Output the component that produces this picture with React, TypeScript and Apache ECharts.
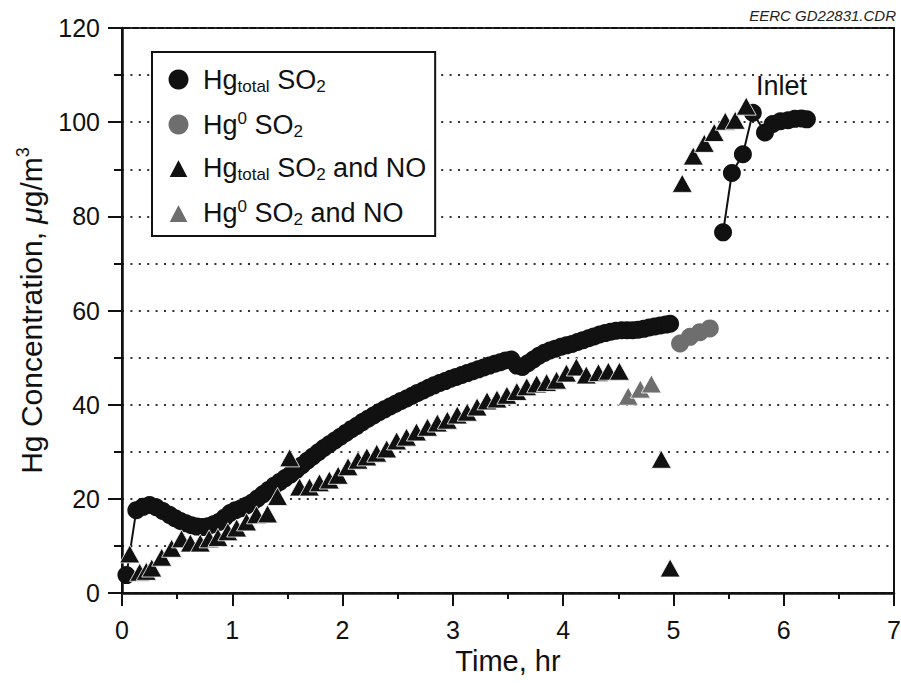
import React, { useEffect, useRef } from "react";
import * as echarts from "echarts";

// Hg_total with SO2 (black circles, connected)
const totalSO2: [number, number][] = [
  [0.04, 3.8], [0.13, 17.6], [0.19, 18.3], [0.25, 18.7], [0.31, 18.2], [0.37, 17.4],
  [0.43, 16.6], [0.48, 15.9], [0.53, 15.3], [0.58, 14.8], [0.63, 14.4], [0.68, 14.1],
  [0.73, 14.0], [0.78, 14.2], [0.83, 14.6], [0.88, 15.1], [0.93, 16.0], [0.98, 17.0],
  [1.03, 17.6], [1.08, 18.0], [1.13, 18.6], [1.18, 19.2], [1.23, 20.1], [1.28, 21.0],
  [1.33, 21.9], [1.38, 22.8], [1.43, 23.6], [1.48, 24.4], [1.53, 25.2], [1.58, 26.1],
  [1.63, 27.1], [1.68, 28.1], [1.73, 29.0], [1.78, 29.9], [1.83, 30.8], [1.88, 31.6],
  [1.93, 32.4], [1.98, 33.2], [2.03, 34.0], [2.08, 34.8], [2.13, 35.5], [2.18, 36.3],
  [2.23, 37.0], [2.28, 37.7], [2.33, 38.4], [2.38, 39.0], [2.43, 39.6], [2.48, 40.2],
  [2.53, 40.8], [2.58, 41.3], [2.63, 41.9], [2.68, 42.5], [2.73, 43.0], [2.78, 43.6],
  [2.83, 44.1], [2.88, 44.6], [2.93, 45.0], [2.98, 45.5], [3.03, 45.9], [3.08, 46.3],
  [3.13, 46.7], [3.18, 47.1], [3.23, 47.5], [3.28, 47.9], [3.33, 48.3], [3.38, 48.7],
  [3.43, 49.0], [3.48, 49.4], [3.53, 49.6], [3.58, 48.3], [3.63, 48.0], [3.68, 48.8],
  [3.73, 49.6], [3.78, 50.4], [3.83, 51.0], [3.88, 51.5], [3.93, 51.9], [3.98, 52.3],
  [4.03, 52.6], [4.08, 52.9], [4.13, 53.3], [4.18, 53.7], [4.23, 54.1], [4.28, 54.5],
  [4.33, 54.9], [4.38, 55.2], [4.43, 55.5], [4.48, 55.7], [4.53, 55.8], [4.58, 55.8],
  [4.63, 55.8], [4.68, 55.9], [4.73, 56.1], [4.78, 56.4], [4.83, 56.6], [4.88, 56.8],
  [4.93, 57.0], [4.97, 57.2],
];

// Inlet Hg_total (black circles, connected)
const totalSO2Inlet: [number, number][] = [
  [5.45, 76.6], [5.53, 89.2], [5.63, 93.2], [5.72, 102.0], [5.83, 97.8], [5.9, 99.6],
  [5.97, 100.2], [6.04, 100.4], [6.1, 100.7], [6.16, 100.8], [6.21, 100.6],
];

// Hg0 with SO2 (gray circles)
const zeroSO2: [number, number][] = [
  [5.06, 53.0], [5.15, 54.4], [5.24, 55.4], [5.33, 56.2],
];

// Hg_total with SO2 and NO (black triangles)
const totalNO: [number, number][] = [
  [0.07, 8.3], [0.16, 4.4], [0.22, 4.6], [0.27, 5.3], [0.36, 7.6], [0.45, 9.5],
  [0.54, 11.5], [0.62, 10.6], [0.71, 10.6], [0.79, 11.5], [0.87, 11.8], [0.96, 13.0],
  [1.04, 13.8], [1.13, 15.1], [1.22, 16.6], [1.32, 16.8], [1.41, 20.5], [1.52, 28.7],
  [1.61, 22.5], [1.7, 22.5], [1.79, 23.4], [1.88, 24.0], [1.96, 25.0], [2.05, 26.8],
  [2.14, 28.2], [2.22, 28.9], [2.31, 29.7], [2.4, 30.6], [2.49, 32.3], [2.58, 33.1],
  [2.67, 34.2], [2.77, 35.2], [2.86, 36.1], [2.95, 36.7], [3.04, 37.8], [3.13, 38.4],
  [3.22, 39.5], [3.31, 40.8], [3.4, 41.2], [3.49, 42.0], [3.58, 42.8], [3.67, 43.8],
  [3.76, 44.4], [3.85, 44.7], [3.94, 45.2], [4.03, 46.7], [4.12, 48.0], [4.21, 46.3],
  [4.32, 46.8], [4.41, 47.1], [4.51, 47.1], [4.89, 28.4], [4.97, 5.3],
  [5.08, 87.0], [5.18, 92.8], [5.28, 95.5], [5.37, 97.8], [5.47, 100.2], [5.56, 100.4],
  [5.66, 103.4],
];

// Hg0 with SO2 and NO (gray triangles)
const zeroNO: [number, number][] = [
  [4.59, 41.8], [4.7, 43.3], [4.8, 44.4],
];

const xTicks = [0, 1, 2, 3, 4, 5, 6, 7];
const yTicks = [0, 20, 40, 60, 80, 100, 120];

const seriesNames = [
  "Hg total SO2",
  "Hg0 SO2",
  "Hg total SO2 and NO",
  "Hg0 SO2 and NO",
];
const legendRich: Record<string, string> = {
  "Hg total SO2": "{h|Hg}{sub|total}{n| SO}{sub|2}",
  "Hg0 SO2": "{h|Hg}{sup|0}{n| SO}{sub|2}",
  "Hg total SO2 and NO": "{h|Hg}{sub|total}{n| SO}{sub|2}{n| and NO}",
  "Hg0 SO2 and NO": "{h|Hg}{sup|0}{n| SO}{sub|2}{n| and NO}",
};

const FONT = "'Liberation Sans', Arial, Helvetica, sans-serif";
const BLACK = "#111111";
const GRAY = "#6e6e6e";

export default function App() {
  const ref = useRef<HTMLDivElement>(null);
  useEffect(() => {
    if (!ref.current) return;
    const chart = echarts.init(ref.current, undefined, { renderer: "svg" });
    const dotted = { type: [2, 6.4] as number[], color: "#333", width: 2 };
    const richBase = {
      h: { fontSize: 27, fontFamily: FONT, color: BLACK, lineHeight: 30, padding: [0, 0, 0, 9] },
      n: { fontSize: 27, fontFamily: FONT, color: BLACK, lineHeight: 30 },
      sub: { fontSize: 17, fontFamily: FONT, color: BLACK, lineHeight: 16, verticalAlign: "bottom" },
      sup: { fontSize: 17, fontFamily: FONT, color: BLACK, lineHeight: 16, verticalAlign: "top" },
    };
    chart.setOption({
      animation: false,
      backgroundColor: "#ffffff",
      grid: {
        left: 122,
        right: 7,
        top: 28,
        bottom: 90,
        show: true,
        borderColor: BLACK,
        borderWidth: 2,
        outerBoundsMode: "none",
      },
      xAxis: {
        type: "value",
        min: xTicks[0],
        max: xTicks[xTicks.length - 1],
        interval: 1,
        name: "Time, hr",
        nameLocation: "middle",
        nameGap: 46,
        nameTextStyle: { fontSize: 29, fontFamily: FONT, color: BLACK },
        axisLine: { show: true, lineStyle: { color: BLACK, width: 2.5 } },
        axisTick: { show: true, length: 13, lineStyle: { color: BLACK, width: 2 } },
        minorTick: { show: true, splitNumber: 2, length: 6, lineStyle: { color: BLACK, width: 2 } },
        axisLabel: { fontSize: 25, fontFamily: FONT, color: BLACK, margin: 24 },
        splitLine: { show: false },
      },
      yAxis: {
        type: "value",
        min: yTicks[0],
        max: yTicks[yTicks.length - 1],
        interval: 20,
        name: "{n|Hg Concentration, }{mu|μ}{n|g/m}{sup|3}",
        nameLocation: "middle",
        nameGap: 74,
        nameTextStyle: {
          fontSize: 30,
          fontFamily: FONT,
          color: BLACK,
          rich: {
            n: { fontSize: 30, fontFamily: FONT, color: BLACK, lineHeight: 34 },
            mu: { fontSize: 30, fontFamily: FONT, color: BLACK, fontStyle: "italic", lineHeight: 34 },
            sup: { fontSize: 18, fontFamily: FONT, color: BLACK, lineHeight: 18, verticalAlign: "top" },
          },
        },
        axisLine: { show: true, lineStyle: { color: BLACK, width: 2.5 } },
        axisTick: { show: true, length: 14, lineStyle: { color: BLACK, width: 2 } },
        minorTick: { show: true, splitNumber: 2, length: 8, lineStyle: { color: BLACK, width: 2 } },
        axisLabel: { fontSize: 25, fontFamily: FONT, color: BLACK, margin: 22 },
        splitLine: { show: true, lineStyle: dotted },
        minorSplitLine: { show: true, lineStyle: dotted },
      },
      legend: {
        show: true,
        left: 152,
        top: 52,
        orient: "vertical",
        selectedMode: false,
        backgroundColor: "#ffffff",
        borderColor: BLACK,
        borderWidth: 2,
        borderRadius: 0,
        padding: [14, 9, 8, 15],
        itemGap: 15,
        itemWidth: 21,
        itemHeight: 20,
        symbolKeepAspect: true,
        data: [
          { name: seriesNames[0], icon: "circle" },
          { name: seriesNames[1], icon: "circle" },
          { name: seriesNames[2], icon: "triangle" },
          { name: seriesNames[3], icon: "triangle" },
        ],
        formatter: (name: string) => legendRich[name] ?? name,
        textStyle: { fontSize: 27, fontFamily: FONT, color: BLACK, rich: richBase },
      },
      graphic: [
        {
          type: "text",
          right: 5,
          top: 8,
          style: {
            text: "EERC GD22831.CDR",
            fontSize: 15,
            fontStyle: "italic",
            fontFamily: FONT,
            fill: "#222",
          },
        },
        {
          type: "text",
          left: 756,
          top: 72,
          style: { text: "Inlet", fontSize: 27, fontFamily: FONT, fill: BLACK },
        },
      ],
      series: [
        {
          name: seriesNames[0],
          type: "line",
          data: totalSO2,
          symbol: "circle",
          symbolSize: 18,
          showAllSymbol: true,
          lineStyle: { color: BLACK, width: 2 },
          itemStyle: { color: BLACK, opacity: 1 },
          z: 2,
        },
        {
          name: seriesNames[0],
          type: "line",
          data: totalSO2Inlet,
          symbol: "circle",
          symbolSize: 18,
          showAllSymbol: true,
          lineStyle: { color: BLACK, width: 2 },
          itemStyle: { color: BLACK, opacity: 1 },
          z: 2,
        },
        {
          name: seriesNames[1],
          type: "scatter",
          data: zeroSO2,
          symbol: "circle",
          symbolSize: 18,
          itemStyle: { color: GRAY, opacity: 1 },
          z: 2,
        },
        {
          name: seriesNames[2],
          type: "scatter",
          data: totalNO,
          symbol: "triangle",
          symbolSize: [20, 18],
          itemStyle: { color: BLACK, opacity: 1, borderColor: "#ffffff", borderWidth: 0.8 },
          z: 3,
        },
        {
          name: seriesNames[3],
          type: "scatter",
          data: zeroNO,
          symbol: "triangle",
          symbolSize: [20, 18],
          itemStyle: { color: GRAY, opacity: 1, borderColor: "#ffffff", borderWidth: 0.8 },
          z: 3,
        },
      ],
    });
    return () => chart.dispose();
  }, []);
  return (
    <div
      ref={ref}
      style={{ position: "fixed", left: 0, top: 0, width: 901, height: 683, background: "#fff" }}
    />
  );
}
